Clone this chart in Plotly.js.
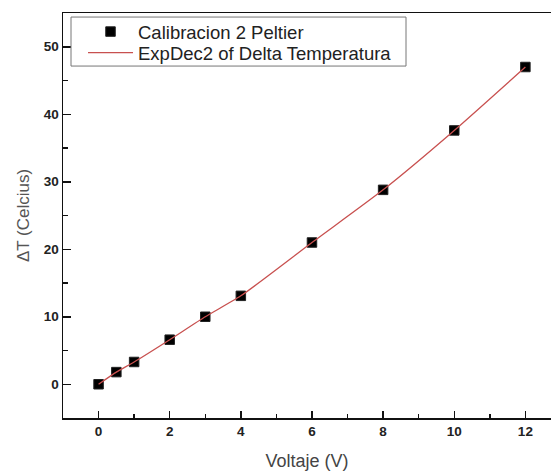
<!DOCTYPE html>
<html>
<head>
<meta charset="utf-8">
<script src="https://cdn.plot.ly/plotly-3.0.1.min.js"></script>
<style>html,body{margin:0;padding:0;background:#fff;}#chart{width:551px;height:472px;}</style>
</head>
<body>
<div id="chart"></div>
<script>
var voltaje = [0, 0.5, 1, 2, 3, 4, 6, 8, 10, 12];
var deltaT = [0, 1.8, 3.3, 6.6, 10.0, 13.1, 21.0, 28.8, 37.6, 47.0];
var xTicks = [0, 2, 4, 6, 8, 10, 12];
var yTicks = [0, 10, 20, 30, 40, 50];
var seriesNames = ['Calibracion 2 Peltier', 'ExpDec2 of Delta Temperatura'];

var FONT = 'Liberation Sans, Arial, sans-serif';
var legendFont = {family: FONT, size: 18.5, color: '#222'};

var traces = [
  {
    x: voltaje, y: deltaT, name: seriesNames[0], type: 'scatter', mode: 'markers',
    legend: 'legend',
    marker: {symbol: 'square', size: 9.5, color: '#000', line: {color: '#222', width: 1}}
  },
  {
    x: voltaje, y: deltaT, name: seriesNames[1], type: 'scatter', mode: 'lines',
    legend: 'legend2',
    line: {color: '#c8504f', width: 1.3, shape: 'spline', smoothing: 0.6}
  }
];

var layout = {
  width: 551, height: 472,
  margin: {l: 63, r: 0, t: 13, b: 54},
  paper_bgcolor: '#fff', plot_bgcolor: '#fff',
  showlegend: true,
  legend: {
    x: 0.041, y: 0.953, xanchor: 'left', yanchor: 'middle',
    bgcolor: 'rgba(0,0,0,0)', borderwidth: 0,
    font: legendFont, itemwidth: 45
  },
  legend2: {
    x: 0.041, y: 0.901, xanchor: 'left', yanchor: 'middle',
    bgcolor: 'rgba(0,0,0,0)', borderwidth: 0,
    font: legendFont, itemwidth: 45
  },
  shapes: [
    {type: 'rect', xref: 'paper', yref: 'paper', x0: 0.0164, x1: 0.7029, y0: 0.869, y1: 0.990,
     line: {color: '#777', width: 1}, fillcolor: 'rgba(0,0,0,0)', layer: 'above'}
  ],
  xaxis: {
    range: [-1, 12.72], tickvals: xTicks, ticktext: xTicks.map(String),
    ticks: 'inside', ticklen: 7, tickwidth: 1.5, tickcolor: '#111',
    minor: {ticks: 'inside', ticklen: 4, tickwidth: 1.5, tickcolor: '#111', dtick: 1, tick0: 1, showgrid: false},
    showline: true, linecolor: '#111', linewidth: 1.5, mirror: true,
    showgrid: false, zeroline: false,
    tickfont: {family: FONT, size: 13.5, color: '#222', weight: 'bold'},
    title: {text: 'Voltaje (V)', font: {family: FONT, size: 18, color: '#444'}, standoff: 16}
  },
  yaxis: {
    range: [-5, 55], tickvals: yTicks, ticktext: yTicks.map(String),
    ticks: 'inside', ticklen: 8, tickwidth: 1.5, tickcolor: '#111',
    minor: {ticks: 'inside', ticklen: 5, tickwidth: 1.5, tickcolor: '#111', dtick: 10, tick0: 5, showgrid: false},
    showline: true, linecolor: '#111', linewidth: 1.5, mirror: false,
    showgrid: false, zeroline: false,
    tickfont: {family: FONT, size: 13.5, color: '#222', weight: 'bold'},
    title: {text: 'ΔT (Celcius)', font: {family: FONT, size: 17, color: '#555'}, standoff: 10}
  }
};

Plotly.newPlot('chart', traces, layout, {displayModeBar: false, staticPlot: true});
</script>
</body>
</html>
